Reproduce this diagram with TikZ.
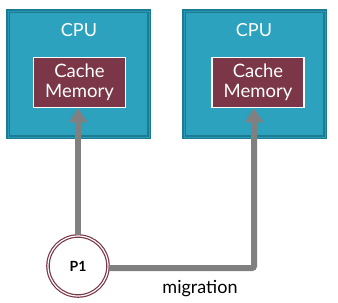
\documentclass[tikz,border=0pt]{standalone}
\usepackage{fontspec}
\setmainfont{Lato}
\usetikzlibrary{arrows.meta}
\definecolor{cpufill}{HTML}{2CA2BF}
\definecolor{cpuedge}{HTML}{1B7C93}
\definecolor{cachefill}{HTML}{7B3647}
\definecolor{wire}{HTML}{808080}
\definecolor{pedge}{HTML}{7B3647}
\tikzset{
  cpubox/.style={draw=cpuedge, line width=2pt, fill=cpufill, minimum width=141pt, minimum height=126pt, inner sep=0pt, double=cpufill!80!cpuedge, double distance=0.6pt},
  cachebox/.style={draw=white, line width=1.6pt, fill=cachefill, minimum width=92pt, minimum height=50pt, inner sep=0pt, align=center, text=white, font=\fontsize{18.5}{20}\selectfont},
  cpulabel/.style={text=white, font=\fontsize{18}{19}\selectfont},
  proc/.style={circle, draw=pedge, line width=1.2pt, double=white, double distance=1.2pt, fill=white, minimum size=60pt, inner sep=0pt, font=\bfseries\fontsize{14}{15}\selectfont},
  wirearrow/.style={draw=wire, line width=6pt, -{Triangle[length=14pt, width=18pt]}},
}
\begin{document}
\begin{tikzpicture}[x=1pt,y=-1pt]
\useasboundingbox (0,0) rectangle (338,303);
\node[cpubox] (cpu1) at (78.5,74) {};
\node[cpubox] (cpu2) at (254.5,74) {};
\node[cpulabel] (l1) at (79,30) {CPU};
\node[cpulabel] (l2) at (254,30) {CPU};
\node[cachebox] (c1) at (79.5,82.5) {Cache\\Memory};
\node[cachebox] (c2) at (258,82.5) {Cache\\Memory};
\node[proc] (p1) at (78,266) {P1};
\coordinate (corner) at (254,268);
\draw[wirearrow] (p1.north) -- (p1.north |- c1.south);
\draw[wirearrow, rounded corners=2pt] (p1.east |- corner) -- (corner) -- (corner |- c2.south);
\node[font=\fontsize{18}{19}\selectfont] (mig) at (200,289) {migration};
\end{tikzpicture}
\end{document}
